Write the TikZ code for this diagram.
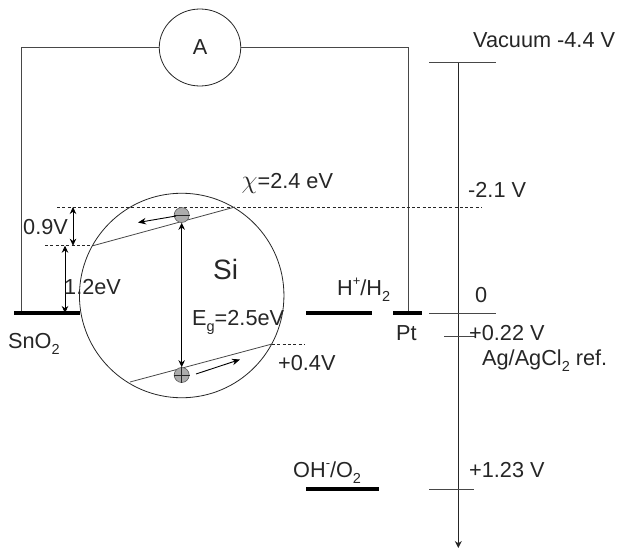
\documentclass[tikz,border=0pt]{standalone}
\usepackage{fontspec}
\setmainfont{Liberation Sans}
\usetikzlibrary{arrows.meta,shapes.geometric}
\definecolor{ink}{gray}{0.15}
\newcommand{\subs}[1]{\raisebox{-0.28em}{\fontsize{14.5}{16}\selectfont #1}}
\newcommand{\sups}[1]{\raisebox{0.42em}{\fontsize{13}{16}\selectfont #1}}
\tikzset{
  x=1pt,y=-1pt,
  wire/.style={draw=ink!85!white,line width=0.9pt},
  thin line/.style={draw=ink!85!white,line width=0.8pt},
  level/.style={draw=black,line width=3.2pt},
  guide/.style={draw=ink,line width=0.7pt,dash pattern=on 3pt off 2.3pt},
  dim/.style={draw=black,line width=0.8pt,{Stealth[length=7pt,width=6.5pt]}-{Stealth[length=7pt,width=6.5pt]}},
  flow/.style={draw=black,line width=0.9pt,-{Stealth[length=8pt,width=6.5pt]}},
  lab/.style={inner sep=0pt,text=ink,font=\fontsize{21.7}{24}\selectfont,anchor=base west},
  carrier/.style={circle,draw=gray!70!black,fill=gray!65,line width=0.6pt,minimum size=15pt,inner sep=0pt}
}
\begin{document}
\begin{tikzpicture}
\useasboundingbox (0,0) rectangle (619,549);
% wires
\node[ellipse,draw=ink,line width=0.8pt,fill=white,minimum width=81.5pt,minimum height=77pt,inner sep=0pt] (amm) at (200,47.5) {};
\node[lab,anchor=base] (ammt) at (200,54) {A};
\coordinate (wl) at (21,47.5);
\coordinate (wr) at (408,47.5);
\coordinate (sn) at (21,313);
\coordinate (pt) at (408,313);
\draw[wire] (amm.west) -- (wl) -- (sn);
\draw[wire] (amm.east) -- (wr) -- (pt);
% Si circle
\node[circle,draw=ink,line width=0.8pt,minimum size=204.5pt,inner sep=0pt] (si) at (181.7,295.5) {};
% levels
\coordinate (snA) at (14,313); \coordinate (snB) at (80,313);
\draw[level] (snA) -- (snB);
\coordinate (hA) at (306,313); \coordinate (hB) at (372,313);
\draw[level] (hA) -- (hB);
\coordinate (ptA) at (393,313); \coordinate (ptB) at (422,313);
\draw[level] (ptA) -- (ptB);
\coordinate (ohA) at (306,489); \coordinate (ohB) at (379,489);
\draw[level] (ohA) -- (ohB);
% guides
\coordinate (g1a) at (57,207); \coordinate (g1b) at (482,207);
\draw[guide] (g1a) -- (g1b);
\coordinate (g2a) at (45,245.7); \coordinate (g2b) at (93,245.7);
\draw[guide] (g2a) -- (g2b);
\coordinate (g3a) at (272,344); \coordinate (g3b) at (305,344);
\draw[guide] (g3a) -- (g3b);
% band lines
\coordinate (c1) at (93,245.7); \coordinate (c2) at (235,207);
\draw[thin line] (c1) -- (c2);
\coordinate (v1) at (130,382); \coordinate (v2) at (272,344);
\draw[thin line] (v1) -- (v2);
% carriers
\node[carrier] (el) at (181.7,215) {};
\draw[draw=ink,line width=0.6pt] (el.west) -- (el.east);
\node[carrier] (ho) at (181.7,375) {};
\draw[draw=ink,line width=0.6pt] (ho.west) -- (ho.east);
\draw[draw=ink,line width=0.6pt] (ho.north) -- (ho.south);
% arrows
\draw[dim] (el.south) -- (ho.north);
\coordinate (d1a) at (73,207); \coordinate (d1b) at (73,245.7);
\draw[dim] (d1a) -- (d1b);
\coordinate (d2a) at (65,245.7); \coordinate (d2b) at (65,313);
\draw[dim] (d2a) -- (d2b);
\coordinate (f1a) at (176,216); \coordinate (f1b) at (138,222.5);
\draw[flow] (f1a) -- (f1b);
\coordinate (f2a) at (196,374); \coordinate (f2b) at (240,359.5);
\draw[flow] (f2a) -- (f2b);
% scale
\coordinate (axT) at (458.3,62.7); \coordinate (axB) at (458.3,548);
\draw[draw=ink,line width=0.9pt,-{Stealth[length=7pt,width=7pt]}] (axT) -- (axB);
\coordinate (t1a) at (429,62.7); \coordinate (t1b) at (496,62.7);
\draw[thin line] (t1a) -- (t1b);
\coordinate (t2a) at (429,313); \coordinate (t2b) at (496,313);
\draw[thin line] (t2a) -- (t2b);
\coordinate (t3a) at (444,336.7); \coordinate (t3b) at (475,336.7);
\draw[thin line] (t3a) -- (t3b);
\coordinate (t4a) at (429,489); \coordinate (t4b) at (474,489);
\draw[thin line] (t4a) -- (t4b);
% labels
\node[lab] (l1) at (473,47) {Vacuum -4.4 V};
\node[lab] (l2) at (468,197) {-2.1 V};
\node[lab] (l3) at (475,302.7) {0};
\node[lab] (l4) at (469,340) {+0.22 V};
\node[lab] (l5) at (482,365) {Ag/AgCl\subs{2} ref.};
\node[lab] (l6) at (469,477) {+1.23 V};
\node[lab] (l7) at (337,295) {H\sups{+}/H\subs{2}};
\node[lab] (l8) at (396,340) {Pt};
\node[lab] (l9) at (293,477) {OH\sups{-}/O\subs{2}};
\node[lab] (l10) at (8,348) {SnO\subs{2}};
\node[lab] (l11) at (23,234) {0.9V};
\node[lab] (l12) at (64,294) {1.2eV};
\node[lab] (l13) at (192,325.7) {E\subs{g}=2.5eV};
\node[lab] (l14) at (278,370.7) {+0.4V};
\node[lab] (l15) at (241.5,188) {\scalebox{1.25}{$\chi$}=2.4 eV};
\node[lab,font=\fontsize{28}{32}\selectfont] (l16) at (213,279) {Si};
\end{tikzpicture}
\end{document}
